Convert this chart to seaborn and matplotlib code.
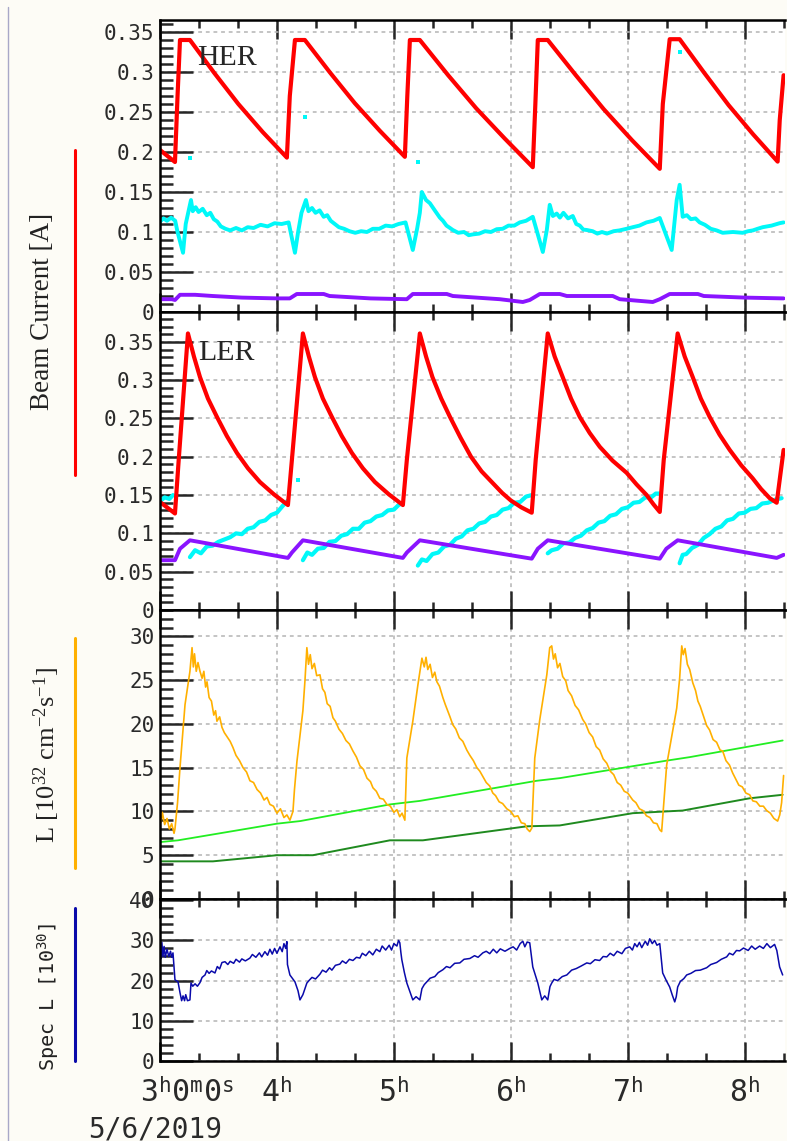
import numpy as np
import pandas as pd
import seaborn as sns
import matplotlib.pyplot as plt
import matplotlib.transforms as mtransforms
from matplotlib.ticker import MultipleLocator, FuncFormatter
from matplotlib.lines import Line2D

# ---------------- data (time in hours) ----------------
# HER beam currents [A]
her_t = [3.000, 3.128, 3.150, 3.171, 3.256, 3.463, 3.670, 3.878, 4.085,
         4.110, 4.154, 4.239, 4.453, 4.666, 4.880, 5.094,
         5.115, 5.137, 5.222, 5.464, 5.705, 5.947, 6.188,
         6.210, 6.231, 6.316, 6.556, 6.795, 7.035, 7.274,
         7.300, 7.359, 7.444, 7.654, 7.863, 8.073, 8.282, 8.300, 8.333]
her_i = [0.2025, 0.1875, 0.270, 0.340, 0.340, 0.299, 0.260, 0.225, 0.193,
         0.270, 0.340, 0.340, 0.2995, 0.261, 0.2265, 0.194,
         0.270, 0.340, 0.340, 0.296, 0.2545, 0.217, 0.181,
         0.260, 0.340, 0.340, 0.296, 0.2535, 0.215, 0.179,
         0.260, 0.341, 0.341, 0.299, 0.2585, 0.222, 0.188, 0.240, 0.296]

her_cyan_t = [3.000, 3.030, 3.060, 3.095, 3.130, 3.150, 3.197, 3.220, 3.265, 3.280, 3.305,
              3.330, 3.365, 3.400, 3.430, 3.460, 3.490, 3.520, 3.560, 3.600, 3.650, 3.700,
              3.750, 3.800, 3.860, 3.920, 3.980, 4.040, 4.100,
              4.154, 4.180, 4.210, 4.248, 4.270, 4.300, 4.330, 4.365, 4.400, 4.430, 4.460,
              4.495, 4.530, 4.575, 4.620, 4.670, 4.720, 4.770, 4.820, 4.875, 4.930, 4.985,
              5.040, 5.100,
              5.162, 5.200, 5.222, 5.239, 5.275, 5.308, 5.350, 5.393, 5.420, 5.450, 5.480,
              5.504, 5.550, 5.600, 5.640, 5.675, 5.730, 5.780, 5.830, 5.880, 5.930, 5.980,
              6.030, 6.077, 6.130, 6.188,
              6.274, 6.308, 6.333, 6.360, 6.393, 6.420, 6.450, 6.490, 6.530, 6.560, 6.590,
              6.620, 6.650, 6.700, 6.740, 6.780, 6.821, 6.880, 6.930, 6.990, 7.043, 7.100,
              7.160, 7.220, 7.274,
              7.376, 7.419, 7.444, 7.470, 7.505, 7.540, 7.580, 7.615, 7.660, 7.710, 7.760,
              7.812, 7.900, 7.983, 8.030, 8.070, 8.110, 8.154, 8.230, 8.299, 8.333]
her_cyan_i = [0.113, 0.117, 0.114, 0.118, 0.114, 0.100, 0.074, 0.110, 0.140, 0.126, 0.131,
              0.125, 0.129, 0.121, 0.124, 0.116, 0.113, 0.107, 0.104, 0.102, 0.105, 0.102,
              0.106, 0.105, 0.109, 0.107, 0.111, 0.110, 0.112,
              0.074, 0.099, 0.124, 0.140, 0.126, 0.130, 0.124, 0.127, 0.119, 0.121, 0.114,
              0.110, 0.106, 0.104, 0.101, 0.099, 0.101, 0.100, 0.104, 0.104, 0.108, 0.107,
              0.110, 0.112,
              0.0775, 0.105, 0.124, 0.150, 0.140, 0.136, 0.127, 0.118, 0.114, 0.108, 0.105,
              0.1025, 0.099, 0.100, 0.096, 0.097, 0.098, 0.101, 0.100, 0.1035, 0.104, 0.108,
              0.108, 0.112, 0.114, 0.119,
              0.075, 0.1025, 0.134, 0.120, 0.123, 0.118, 0.124, 0.117, 0.120, 0.110, 0.108,
              0.103, 0.1025, 0.101, 0.098, 0.100, 0.098, 0.101, 0.102, 0.104, 0.106, 0.108,
              0.112, 0.114, 0.1175,
              0.0775, 0.140, 0.159, 0.119, 0.121, 0.116, 0.117, 0.112, 0.109, 0.104, 0.102,
              0.099, 0.100, 0.099, 0.101, 0.102, 0.104, 0.106, 0.108, 0.111, 0.112]
her_cyan_out_t = [3.256, 4.239, 5.205, 7.444]
her_cyan_out_i = [0.1925, 0.244, 0.1875, 0.325]

her_purple_t = [3.000, 3.100, 3.128, 3.171, 3.300, 3.450, 3.700, 4.000, 4.110, 4.170, 4.400,
                4.450, 4.800, 5.111, 5.162, 5.453, 5.504, 5.906, 6.103, 6.162, 6.248,
                6.419, 6.479, 6.872, 6.932, 7.214, 7.274, 7.359, 7.600, 7.650, 8.000, 8.333]
her_purple_i = [0.016, 0.016, 0.015, 0.0215, 0.0215, 0.020, 0.018, 0.017, 0.017, 0.0225, 0.0225,
                0.020, 0.017, 0.016, 0.0225, 0.0225, 0.020, 0.016, 0.0125, 0.015, 0.0225,
                0.0225, 0.020, 0.020, 0.016, 0.0125, 0.016, 0.0225, 0.0225, 0.020, 0.018, 0.017]

# LER beam currents [A]
ler_t = [3.000, 3.128, 3.160, 3.239, 3.290, 3.342, 3.410, 3.487, 3.572, 3.658, 3.752, 3.855,
         3.974, 4.094,
         4.128, 4.222, 4.273, 4.325, 4.393, 4.470, 4.555, 4.641, 4.735, 4.838, 4.957, 5.077,
         5.111, 5.222, 5.275, 5.330, 5.405, 5.480, 5.570, 5.660, 5.750, 5.850, 5.925, 6.000,
         6.090, 6.179,
         6.213, 6.316, 6.375, 6.444, 6.515, 6.590, 6.675, 6.761, 6.870, 6.991, 7.075, 7.162,
         7.220, 7.274,
         7.308, 7.427, 7.487, 7.556, 7.625, 7.701, 7.785, 7.872, 7.970, 8.068, 8.140, 8.214,
         8.274, 8.333]
ler_i = [0.141, 0.126, 0.196, 0.361, 0.331, 0.304, 0.276, 0.252, 0.227, 0.205, 0.185, 0.167,
         0.151, 0.137,
         0.196, 0.361, 0.331, 0.304, 0.276, 0.252, 0.227, 0.205, 0.185, 0.167, 0.151, 0.137,
         0.196, 0.361, 0.331, 0.304, 0.276, 0.252, 0.225, 0.200, 0.181, 0.165, 0.153, 0.143,
         0.134, 0.127,
         0.196, 0.361, 0.331, 0.304, 0.276, 0.252, 0.231, 0.213, 0.195, 0.179, 0.164, 0.150,
         0.138, 0.128,
         0.196, 0.361, 0.331, 0.304, 0.276, 0.252, 0.229, 0.209, 0.189, 0.172, 0.158, 0.146,
         0.140, 0.209]

ler_cyan_t = [3.000, 3.040, 3.080, 3.111,
              3.256, 3.300, 3.350, 3.400, 3.450, 3.500, 3.550, 3.600, 3.650, 3.700, 3.750,
              3.800, 3.850, 3.900, 3.950, 4.000, 4.050, 4.094,
              4.222, 4.260, 4.300, 4.350, 4.400, 4.450, 4.500, 4.550, 4.600, 4.650, 4.700,
              4.750, 4.800, 4.850, 4.900, 4.950, 5.000, 5.040, 5.077,
              5.205, 5.240, 5.280, 5.330, 5.380, 5.430, 5.480, 5.530, 5.580, 5.630, 5.680,
              5.730, 5.780, 5.830, 5.880, 5.930, 5.980, 6.030, 6.080, 6.130, 6.179,
              6.316, 6.350, 6.400, 6.450, 6.500, 6.550, 6.600, 6.650, 6.700, 6.750, 6.800,
              6.850, 6.900, 6.950, 7.000, 7.050, 7.100, 7.150, 7.200, 7.240, 7.274,
              7.444, 7.470, 7.500, 7.550, 7.600, 7.650, 7.700, 7.750, 7.800, 7.850, 7.900,
              7.950, 8.000, 8.050, 8.100, 8.150, 8.200, 8.260, 8.316]
ler_cyan_i = [0.142, 0.147, 0.145, 0.150,
              0.069, 0.078, 0.074, 0.083, 0.084, 0.089, 0.092, 0.095, 0.100, 0.099, 0.106,
              0.108, 0.115, 0.117, 0.124, 0.127, 0.136, 0.143,
              0.065, 0.075, 0.072, 0.080, 0.081, 0.089, 0.090, 0.097, 0.099, 0.106, 0.106,
              0.114, 0.116, 0.122, 0.124, 0.130, 0.131, 0.137, 0.140,
              0.058, 0.066, 0.064, 0.073, 0.075, 0.083, 0.085, 0.093, 0.096, 0.104, 0.106,
              0.113, 0.115, 0.122, 0.124, 0.131, 0.133, 0.140, 0.141, 0.148, 0.150,
              0.074, 0.078, 0.080, 0.087, 0.088, 0.094, 0.097, 0.104, 0.107, 0.114, 0.116,
              0.123, 0.125, 0.132, 0.134, 0.140, 0.141, 0.147, 0.147, 0.152, 0.152,
              0.061, 0.072, 0.073, 0.081, 0.085, 0.094, 0.099, 0.106, 0.109, 0.117, 0.119,
              0.126, 0.127, 0.132, 0.133, 0.139, 0.140, 0.144, 0.146]
ler_cyan_breaks = [3.2, 4.15, 5.15, 6.25, 7.35]
ler_cyan_out_t = [4.179]
ler_cyan_out_i = [0.170]

ler_purple_t = [3.000, 3.128, 3.171, 3.256, 4.094, 4.128, 4.222, 5.077, 5.111, 5.222,
                6.179, 6.231, 6.316, 7.274, 7.330, 7.427, 8.274, 8.333]
ler_purple_i = [0.065, 0.065, 0.080, 0.091, 0.068, 0.075, 0.091, 0.068, 0.075, 0.091,
                0.067, 0.080, 0.091, 0.067, 0.080, 0.091, 0.068, 0.072]

# Luminosity [1e32 cm^-2 s^-1]
lum_t = [3.000, 3.010, 3.020, 3.040, 3.060, 3.080, 3.100, 3.120, 3.128,
         3.150, 3.171, 3.214, 3.256, 3.274,
         3.285, 3.295, 3.310, 3.325, 3.342, 3.360, 3.375, 3.390, 3.402, 3.420, 3.440,
         3.460, 3.475, 3.487, 3.510, 3.530, 3.550, 3.570, 3.600, 3.624, 3.650, 3.680,
         3.710, 3.740, 3.769, 3.800, 3.830, 3.860, 3.890, 3.915, 3.940, 3.970, 4.000,
         4.030, 4.060, 4.085, 4.111,
         4.137, 4.150, 4.171, 4.200, 4.222, 4.240, 4.256,
         4.270, 4.285, 4.300, 4.320, 4.340, 4.368, 4.390, 4.410, 4.430, 4.455, 4.479,
         4.500, 4.530, 4.560, 4.590, 4.620, 4.650, 4.680, 4.710, 4.740, 4.770, 4.800,
         4.821, 4.850, 4.880, 4.910, 4.940, 4.970, 5.000, 5.026, 5.050, 5.070, 5.094,
         5.111, 5.162, 5.205, 5.240,
         5.260, 5.275, 5.290, 5.310, 5.330, 5.350, 5.368, 5.390, 5.419, 5.440, 5.460,
         5.480, 5.504, 5.530, 5.560, 5.590, 5.624, 5.650, 5.680, 5.710, 5.735, 5.760,
         5.790, 5.820, 5.846, 5.870, 5.900, 5.930, 5.966, 6.000, 6.030, 6.060, 6.090,
         6.120, 6.140, 6.162, 6.180,
         6.205, 6.248, 6.308, 6.333, 6.350,
         6.365, 6.380, 6.400, 6.420, 6.444, 6.470, 6.490, 6.520, 6.550, 6.580, 6.615,
         6.640, 6.670, 6.700, 6.730, 6.760, 6.790, 6.821, 6.850, 6.880, 6.910, 6.940,
         6.970, 7.000, 7.043, 7.070, 7.100, 7.130, 7.160, 7.190, 7.220, 7.250, 7.274,
         7.290,
         7.333, 7.419, 7.444, 7.462,
         7.475, 7.490, 7.510, 7.530, 7.556, 7.580, 7.600, 7.620, 7.650, 7.675, 7.700,
         7.730, 7.760, 7.790, 7.812, 7.840, 7.870, 7.897, 7.920, 7.950, 7.980, 8.010,
         8.043, 8.070, 8.100, 8.130, 8.160, 8.188, 8.220, 8.250, 8.282, 8.300, 8.316,
         8.333]
lum = [9.6, 8.8, 9.9, 8.5, 9.2, 8.0, 8.6, 7.5, 8.0,
       11.0, 15.0, 22.2, 26.0, 28.7,
       26.5, 28.0, 26.0, 27.0, 26.0, 25.2, 26.0, 24.2, 24.8, 23.0, 22.6,
       21.0, 21.5, 20.3, 20.8, 19.6, 19.0, 18.6, 18.0, 17.3, 16.4, 15.8,
       15.0, 14.5, 13.5, 13.3, 12.5, 12.1, 11.3, 11.6, 10.8, 10.6, 9.8,
       10.3, 9.3, 9.6, 9.0,
       10.0, 12.5, 15.7, 19.0, 21.5, 25.0, 28.7,
       26.8, 27.9, 26.3, 26.9, 25.5, 25.6, 24.0, 23.6, 22.3, 22.0, 20.7,
       20.3, 19.4, 18.9, 18.1, 17.7, 16.9, 16.2, 15.2, 14.8, 13.8, 13.4,
       12.7, 12.3, 11.5, 11.4, 10.8, 10.6, 9.9, 10.2, 9.4, 9.8, 9.0,
       16.1, 20.3, 24.4, 27.5,
       26.5, 27.6, 26.2, 26.8, 25.3, 25.9, 24.8, 24.3, 23.0, 22.2, 21.5,
       20.8, 19.9, 19.4, 18.4, 18.0, 17.0, 16.4, 15.8, 15.0, 14.6, 14.0,
       13.3, 12.9, 12.1, 11.8, 11.1, 10.9, 10.3, 10.0, 9.4, 9.5, 8.7,
       8.6, 8.0, 7.7, 8.1,
       16.1, 20.5, 25.6, 28.7, 28.9,
       27.4, 28.0, 26.4, 26.9, 25.4, 24.9, 23.8, 23.2, 22.1, 21.6, 20.5,
       20.0, 19.0, 18.5, 17.4, 17.0, 16.0, 15.5, 14.6, 14.2, 13.3, 13.0,
       12.3, 12.1, 11.3, 11.0, 10.3, 10.1, 9.5, 9.3, 8.7, 8.6, 7.9,
       7.7,
       15.3, 21.8, 25.2, 28.9,
       27.9, 28.6, 26.8, 26.2, 24.7, 23.8, 22.6, 22.0, 20.8, 19.8, 19.3,
       18.2, 17.9, 17.0, 16.9, 15.8, 15.3, 14.4, 13.8, 13.0, 12.8, 12.1,
       11.9, 11.2, 11.1, 10.6, 10.6, 10.1, 9.8, 9.2, 8.9, 9.6, 11.0,
       14.1]

lum_light_t = [3.000, 3.154, 4.000, 4.200, 4.966, 5.222, 6.222, 6.419, 7.333, 7.530, 8.325]
lum_light = [6.5, 6.7, 8.6, 8.9, 10.8, 11.2, 13.5, 13.8, 15.8, 16.2, 18.1]

lum_dark_t = [3.000, 3.453, 4.000, 4.308, 4.966, 5.248, 6.137, 6.419, 7.043, 7.470, 8.043, 8.325]
lum_dark = [4.3, 4.3, 5.0, 5.0, 6.7, 6.7, 8.3, 8.4, 9.8, 10.1, 11.5, 11.9]

# Specific luminosity [1e30]
spec_t = [3.000, 3.008, 3.016, 3.025, 3.035, 3.045, 3.060, 3.075, 3.090, 3.100, 3.111,
          3.128, 3.154, 3.171, 3.185, 3.197, 3.210, 3.220, 3.235, 3.256, 3.265, 3.280,
          3.300, 3.320, 3.342, 3.360, 3.385, 3.400, 3.420, 3.440, 3.470, 3.490, 3.510,
          3.530, 3.556, 3.580, 3.600, 3.630, 3.650, 3.680, 3.700, 3.730, 3.769, 3.790,
          3.820, 3.850, 3.870, 3.897, 3.920, 3.940, 3.960, 3.980, 4.000, 4.026, 4.045,
          4.060, 4.075, 4.085,
          4.090, 4.111, 4.154, 4.180, 4.197, 4.222, 4.256, 4.280, 4.300, 4.330, 4.368,
          4.390, 4.420, 4.450, 4.470, 4.500, 4.538, 4.560, 4.590, 4.620, 4.650, 4.680,
          4.709, 4.730, 4.760, 4.790, 4.820, 4.850, 4.880, 4.900, 4.930, 4.960, 4.980,
          5.000, 5.026, 5.040, 5.051,
          5.060, 5.068, 5.090, 5.111, 5.140, 5.162, 5.190, 5.222, 5.240, 5.260, 5.282,
          5.310, 5.350, 5.380, 5.419, 5.450, 5.480, 5.520, 5.564, 5.600, 5.650, 5.690,
          5.720, 5.761, 5.790, 5.820, 5.850, 5.880, 5.910, 5.950, 5.991, 6.020, 6.050,
          6.080, 6.103, 6.120, 6.140, 6.162,
          6.188, 6.231, 6.250, 6.265, 6.290, 6.316, 6.335, 6.350, 6.370, 6.400, 6.440,
          6.479, 6.520, 6.560, 6.600, 6.650, 6.680, 6.720, 6.760, 6.790, 6.821, 6.850,
          6.880, 6.910, 6.950, 6.980, 7.017, 7.040, 7.060, 7.080, 7.100, 7.120, 7.150,
          7.170, 7.188, 7.210, 7.230, 7.250, 7.274,
          7.299, 7.330, 7.359, 7.380, 7.402, 7.415, 7.427, 7.450, 7.480, 7.504, 7.540,
          7.580, 7.620, 7.675, 7.710, 7.760, 7.800, 7.846, 7.870, 7.900, 7.930, 7.957,
          7.990, 8.030, 8.060, 8.090, 8.128, 8.160, 8.190, 8.220, 8.256, 8.275, 8.299,
          8.325]
spec = [27.7, 25.5, 29.5, 26.0, 28.5, 25.8, 27.8, 26.0, 27.3, 25.8, 26.9,
        20.2, 19.7, 17.0, 15.0, 16.2, 15.0, 16.5, 15.0, 15.2, 19.4, 18.6,
        19.2, 18.6, 19.5, 20.8, 21.4, 22.5, 21.8, 22.4, 21.9, 23.5, 22.9,
        24.5, 24.7, 24.0, 24.8, 24.3, 25.3, 24.6, 25.4, 24.9, 25.6, 26.5,
        25.8, 26.9, 25.9, 27.2, 26.3, 27.8, 26.6, 28.0, 26.8, 28.4, 27.2,
        29.2, 28.0, 29.7,
        24.0, 21.4, 19.7, 17.5, 15.2, 16.5, 19.4, 20.2, 20.8, 20.4, 21.6,
        22.6, 22.1, 23.2, 22.6, 23.8, 24.1, 24.9, 24.3, 25.3, 25.0, 25.8,
        25.6, 26.8, 26.2, 27.3, 26.4, 27.8, 27.2, 28.6, 27.6, 28.8, 27.6,
        29.2, 28.6, 30.0, 29.4,
        27.0, 25.2, 22.0, 19.4, 17.0, 15.2, 16.0, 15.2, 18.0, 19.0, 19.7,
        20.6, 21.0, 22.0, 22.7, 23.5, 23.2, 24.3, 24.4, 25.3, 25.5, 26.2,
        25.8, 26.9, 27.3, 26.7, 27.8, 26.9, 27.9, 27.3, 28.0, 28.4, 27.6,
        29.2, 29.8, 28.4, 29.6, 29.4,
        23.4, 19.4, 17.0, 15.2, 16.2, 15.2, 18.5, 19.4, 20.3, 20.0, 21.0,
        21.4, 22.6, 23.0, 23.6, 24.4, 24.2, 25.2, 25.0, 26.0, 25.9, 26.8,
        26.2, 27.3, 26.7, 28.0, 28.4, 27.6, 29.2, 28.4, 29.5, 28.2, 29.8,
        28.8, 30.4, 29.2, 30.0, 28.8, 29.2,
        21.9, 20.0, 18.4, 16.5, 14.7, 16.0, 18.4, 19.8, 20.5, 21.4, 21.8,
        22.5, 22.6, 23.2, 24.0, 24.5, 25.3, 25.9, 26.8, 26.4, 27.5, 27.4,
        28.1, 27.5, 28.6, 27.8, 28.6, 28.0, 29.2, 28.2, 29.0, 27.5, 23.4,
        21.4]

hours = [3, 4, 5, 6, 7, 8]
hour_labels = [r'3$^\mathtt{h}$0$^\mathtt{m}$0$^\mathtt{s}$', r'4$^\mathtt{h}$', r'5$^\mathtt{h}$',
               r'6$^\mathtt{h}$', r'7$^\mathtt{h}$', r'8$^\mathtt{h}$']
date_label = '5/6/2019'

# ---------------- style ----------------
sns.set_style('white')
plt.rcParams['font.family'] = ['DejaVu Sans Mono', 'DejaVu Sans']
plt.rcParams['mathtext.fontset'] = 'custom'
plt.rcParams['mathtext.rm'] = 'Liberation Serif'
plt.rcParams['mathtext.it'] = 'Liberation Serif:italic'
plt.rcParams['mathtext.bf'] = 'Liberation Serif:bold'
plt.rcParams['mathtext.tt'] = 'DejaVu Sans Mono'

BG = '#fdfcf6'
RED = '#ff0000'
CYAN = '#00f8f8'
PURPLE = '#8a14ff'
ORANGE = '#ffb000'
LGREEN = '#22ee22'
DGREEN = '#1f8a1f'
BLUE = '#0a0aaa'

W, H = 787, 1141
fig = plt.figure(figsize=(W / 100, H / 100), dpi=100, facecolor=BG)


def box(top, bottom):
    return [160 / W, 1 - bottom / H, 625 / W, (bottom - top) / H]


ax1 = fig.add_axes(box(20, 312))
ax2 = fig.add_axes(box(312, 610), sharex=ax1)
ax3 = fig.add_axes(box(610, 899), sharex=ax1)
ax4 = fig.add_axes(box(899, 1061), sharex=ax1)
axes = [ax1, ax2, ax3, ax4]

kw = dict(estimator=None, sort=False)

# HER panel
sns.lineplot(x=her_cyan_t, y=her_cyan_i, ax=ax1, color=CYAN, lw=2.8, **kw)
sns.scatterplot(x=her_cyan_out_t, y=her_cyan_out_i, ax=ax1, color=CYAN, marker='s', s=9,
                linewidth=0)
sns.lineplot(x=her_purple_t, y=her_purple_i, ax=ax1, color=PURPLE, lw=2.8, **kw)
sns.lineplot(x=her_t, y=her_i, ax=ax1, color=RED, lw=3.0, **kw)

# LER panel
lc = pd.DataFrame({'t': ler_cyan_t, 'i': ler_cyan_i})
lc['seg'] = np.searchsorted(ler_cyan_breaks, lc['t'])
sns.lineplot(data=lc, x='t', y='i', units='seg', ax=ax2, color=CYAN, lw=3.0, **kw)
sns.scatterplot(x=ler_cyan_out_t, y=ler_cyan_out_i, ax=ax2, color=CYAN, marker='s', s=9,
                linewidth=0)
sns.lineplot(x=ler_purple_t, y=ler_purple_i, ax=ax2, color=PURPLE, lw=2.8, **kw)
sns.lineplot(x=ler_t, y=ler_i, ax=ax2, color=RED, lw=3.0, **kw)

# Luminosity panel
sns.lineplot(x=lum_dark_t, y=lum_dark, ax=ax3, color=DGREEN, lw=1.4, **kw)
sns.lineplot(x=lum_light_t, y=lum_light, ax=ax3, color=LGREEN, lw=1.3, **kw)
sns.lineplot(x=lum_t, y=lum, ax=ax3, color=ORANGE, lw=1.2, **kw)

# Specific luminosity panel
sns.lineplot(x=spec_t, y=spec, ax=ax4, color=BLUE, lw=1.1, **kw)

ax1.set_ylim(0, 0.365)
ax2.set_ylim(0, 0.389)
ax3.set_ylim(0, 33.0)
ax4.set_ylim(0, 40.3)
ax1.set_xlim(3.0, 8.345)

fmt = FuncFormatter(lambda v, p: f'{v:g}')
ymaj = [0.05, 0.05, 5, 10]
ymin = [0.01, 0.01, 1, 2]
for ax, mj, mn in zip(axes, ymaj, ymin):
    ax.set_facecolor('white')
    ax.set_xlabel('')
    ax.set_ylabel('')
    ax.yaxis.set_major_locator(MultipleLocator(mj))
    ax.yaxis.set_minor_locator(MultipleLocator(mn))
    ax.yaxis.set_major_formatter(fmt)
    ax.xaxis.set_major_locator(MultipleLocator(1))
    ax.xaxis.set_minor_locator(MultipleLocator(1 / 3))
    ax.tick_params(axis='y', which='major', direction='in', length=24, width=1.8,
                   left=True, right=False, pad=4, labelsize=15, labelcolor='#2a2a2a')
    ax.tick_params(axis='y', which='minor', direction='in', length=9, width=1.8,
                   left=True, right=False)
    ax.tick_params(axis='x', which='major', direction='in', length=14, width=1.8,
                   top=True, bottom=True, labelbottom=False)
    ax.tick_params(axis='x', which='minor', direction='in', length=6, width=1.8,
                   top=True, bottom=True)
    ax.grid(True, which='major', color='#b4b4b4', linestyle=(0, (2.5, 2.5)), linewidth=1.1)
    for side in ['left', 'top', 'bottom']:
        ax.spines[side].set_linewidth(1.8)
        ax.spines[side].set_color('black')
    ax.spines['right'].set_visible(False)

ax4.tick_params(axis='x', which='major', labelbottom=True, pad=12, labelsize=21.5,
                labelcolor='#2a2a2a')
ax4.set_xticks(hours)
ax4.set_xticklabels(hour_labels)
first = ax4.get_xticklabels()[0]
first.set_horizontalalignment('left')
first.set_transform(first.get_transform()
                    + mtransforms.ScaledTranslation(-20 / 100, 0, fig.dpi_scale_trans))

ax1.text(0.059, 0.846, 'HER', transform=ax1.transAxes, family='Liberation Serif',
         fontsize=21.5, va='baseline', zorder=10)
ax2.text(0.061, 0.839, 'LER', transform=ax2.transAxes, family='Liberation Serif',
         fontsize=21.5, va='baseline', zorder=10)

fig.text(88 / W, 4 / H, date_label, fontsize=20, color='#2a2a2a', va='baseline',
         ha='left', family='DejaVu Sans Mono')

# axis titles with colour bars
fig.text(43 / W, 1 - 311 / H, 'Beam Current [A]', rotation=90, ha='center', va='center',
         family='Liberation Serif', fontsize=19.5, color='#222222')
fig.text(47 / W, 1 - 755 / H, r'L [10$^{32}$ cm$^{-2}$s$^{-1}$]', rotation=90,
         ha='center', va='center', family='Liberation Serif', fontsize=19, color='#222222')
fig.text(48 / W, 1 - 997 / H, r'Spec L [10$^{\mathtt{30}}$]', rotation=90, ha='center',
         va='center', family='DejaVu Sans Mono', fontsize=14.5, color='#222222')
for y0, y1, c in [(150, 475, RED), (638, 868, ORANGE), (908, 1061, BLUE)]:
    fig.add_artist(Line2D([75 / W, 75 / W], [1 - y1 / H, 1 - y0 / H], color=c, lw=2.2,
                          transform=fig.transFigure))
fig.add_artist(Line2D([8 / W, 8 / W], [0, 1 - 7 / H], color='#a8a8c8', lw=1.0,
                      transform=fig.transFigure))

fig.savefig('out.png', dpi=100, facecolor=BG)
